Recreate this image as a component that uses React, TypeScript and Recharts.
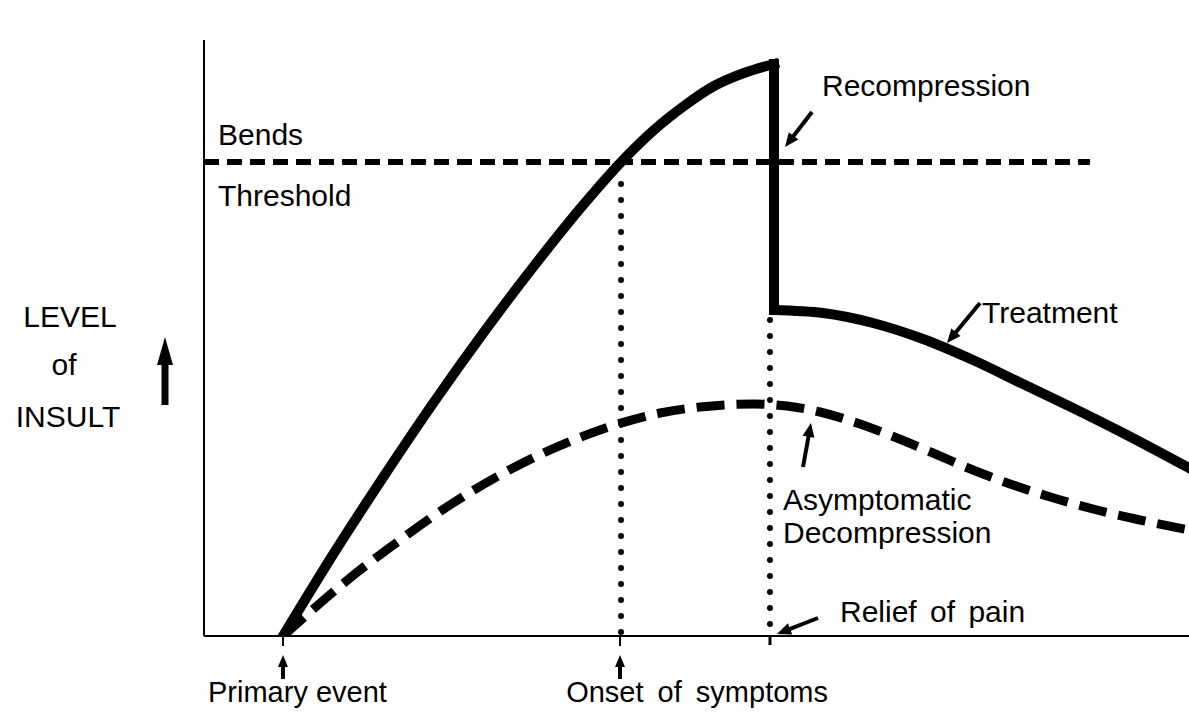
import React from "react";
import { LineChart, Line, XAxis, YAxis, Customized } from "recharts";

// x: time after primary event, y: level of insult (chart units)
const riseX = [79, 130, 180, 230, 280, 330, 380, 421, 450, 480, 510, 540, 570];
const riseY = [0, 83, 160, 234, 304, 370, 432, 478, 506, 530, 550, 563, 572];

const dropX = [570, 570];
const dropY = [572, 326];

const treatX = [570, 619, 669, 719, 769, 819, 869, 919, 985];
const treatY = [326, 323, 313, 297, 276, 252, 228, 203, 168];

const asympX = [79, 106, 146, 196, 249, 296, 346, 396, 456, 496, 551, 583, 616, 653, 693, 729, 769, 809, 853, 893, 936, 985];
const asympY = [0, 24, 58, 96, 133, 161, 186, 206, 223, 229, 232, 230, 224, 213, 198, 183, 166, 151, 137, 126, 116, 106];

const thresholdX = [0, 886];
const thresholdY = [474, 474];

const onsetX = [417, 417];
const onsetY = [452, 2];

const reliefX = [566, 566];
const reliefY = [316, 4];

const zip = (xs: number[], ys: number[]) => xs.map((x, i) => ({ x, y: ys[i] }));

const FONT = "'Liberation Sans', Arial, sans-serif";

function Arrow({ x1, y1, x2, y2, head = 14, half = 6, sw = 4 }: any) {
  const dx = x2 - x1;
  const dy = y2 - y1;
  const len = Math.sqrt(dx * dx + dy * dy);
  const ux = dx / len;
  const uy = dy / len;
  const bx = x2 - ux * head;
  const by = y2 - uy * head;
  const pts = `${x2},${y2} ${bx - uy * half},${by + ux * half} ${bx + uy * half},${by - ux * half}`;
  return (
    <g>
      <line x1={x1} y1={y1} x2={bx + ux * 2} y2={by + uy * 2} stroke="#000" strokeWidth={sw} />
      <polygon points={pts} fill="#000" />
    </g>
  );
}

function Annotations() {
  const t = { fontFamily: FONT, fontSize: 30, fill: "#000" };
  return (
    <g>
      <text x={822} y={96} {...t}>Recompression</text>
      <text x={218} y={145} {...t}>Bends</text>
      <text x={218} y={206} {...t}>Threshold</text>
      <text x={982} y={323} {...t}>Treatment</text>
      <text x={783} y={510} {...t}>Asymptomatic</text>
      <text x={783} y={543} {...t}>Decompression</text>
      <text x={840} y={622} {...t} style={{ wordSpacing: 5 }}>Relief of pain</text>
      <text x={208} y={702} {...t} fontSize={29}>Primary event</text>
      <text x={828} y={702} {...t} fontSize={29} textAnchor="end" style={{ wordSpacing: 6 }}>Onset of symptoms</text>
      <text x={70} y={327} {...t} textAnchor="middle">LEVEL</text>
      <text x={64} y={375} {...t} textAnchor="middle">of</text>
      <text x={68} y={427} {...t} textAnchor="middle">INSULT</text>

      <Arrow x1={165} y1={405} x2={165} y2={337} head={28} half={8} sw={7} />
      <Arrow x1={812} y1={112} x2={785} y2={147} />
      <Arrow x1={980} y1={303} x2={947} y2={343} />
      <Arrow x1={803} y1={467} x2={811} y2={423} />
      <Arrow x1={818} y1={618} x2={777} y2={634} />
      <line x1={283} y1={636} x2={283} y2={646} stroke="#000" strokeWidth={2} />
      <Arrow x1={283} y1={679} x2={283} y2={655} head={12} half={5} sw={4} />
      <line x1={620} y1={636} x2={620} y2={646} stroke="#000" strokeWidth={2} />
      <Arrow x1={620} y1={679} x2={620} y2={655} head={12} half={5} sw={4} />
      <line x1={770} y1={636} x2={770} y2={645} stroke="#000" strokeWidth={3} />
    </g>
  );
}

export default function App() {
  return (
    <div style={{ width: 1189, height: 713, background: "#fff" }}>
      <style>{"body{margin:0}"}</style>
      <LineChart
        width={1189}
        height={713}
        margin={{ top: 40, right: 0, left: 200, bottom: 73 }}
      >
        <XAxis
          type="number"
          dataKey="x"
          domain={[0, 985]}
          allowDataOverflow
          height={4}
          tick={false}
          tickLine={false}
          axisLine={{ stroke: "#000", strokeWidth: 2 }}
        />
        <YAxis
          type="number"
          dataKey="y"
          domain={[0, 596]}
          allowDataOverflow
          width={4}
          tick={false}
          tickLine={false}
          axisLine={{ stroke: "#000", strokeWidth: 2 }}
        />
        <Line data={zip(thresholdX, thresholdY)} dataKey="y" type="linear" stroke="#000" strokeWidth={6} strokeDasharray="15 8" dot={false} isAnimationActive={false} />
        <Line data={zip(onsetX, onsetY)} dataKey="y" type="linear" stroke="#000" strokeWidth={6} strokeDasharray="0 16" strokeLinecap="round" dot={false} isAnimationActive={false} />
        <Line data={zip(reliefX, reliefY)} dataKey="y" type="linear" stroke="#000" strokeWidth={6} strokeDasharray="0 16" strokeLinecap="round" dot={false} isAnimationActive={false} />
        <Line data={zip(asympX, asympY)} dataKey="y" type="monotone" stroke="#000" strokeWidth={9} strokeDasharray="28 12" dot={false} isAnimationActive={false} />
        <Line data={zip(riseX, riseY)} dataKey="y" type="monotone" stroke="#000" strokeWidth={10} strokeLinecap="square" dot={false} isAnimationActive={false} />
        <Line data={zip(dropX, dropY)} dataKey="y" type="linear" stroke="#000" strokeWidth={10} strokeLinecap="square" dot={false} isAnimationActive={false} />
        <Line data={zip(treatX, treatY)} dataKey="y" type="monotone" stroke="#000" strokeWidth={10} strokeLinecap="square" dot={false} isAnimationActive={false} />
        <Customized component={Annotations} />
      </LineChart>
    </div>
  );
}
